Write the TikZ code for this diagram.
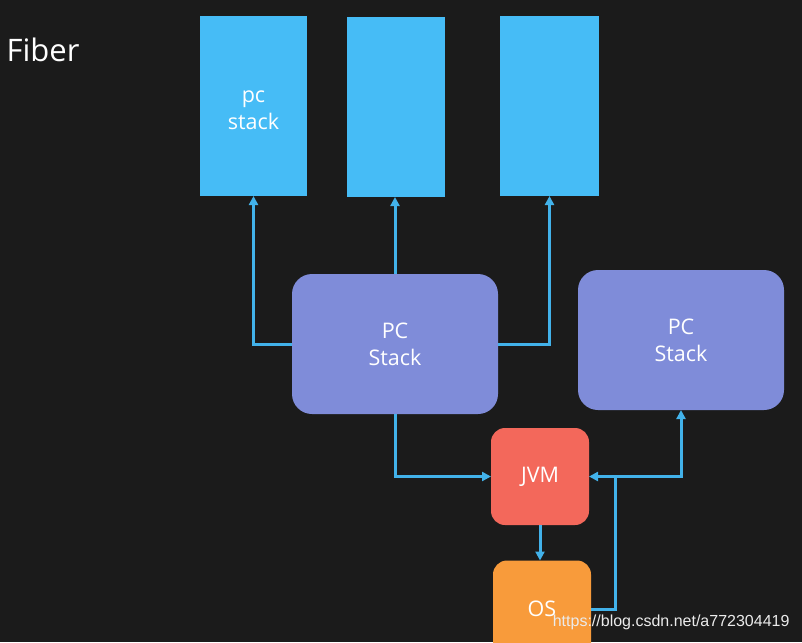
\documentclass[tikz,border=0pt]{standalone}
\usepackage{fontspec}
\setmainfont{Open Sans}
\newfontfamily\urlfont{Liberation Sans}
\usetikzlibrary{arrows.meta}
\definecolor{board}{HTML}{1B1B1B}
\definecolor{stackblue}{HTML}{46BCF6}
\definecolor{pcpurple}{HTML}{7F8CD9}
\definecolor{jvmred}{HTML}{F3685B}
\definecolor{osorange}{HTML}{F89B3B}
\definecolor{wire}{HTML}{42B2EA}

\begin{document}
\begin{tikzpicture}[x=1pt,y=-1pt,
    box/.style={inner sep=0pt,outer sep=0pt,text=white,align=center,
        font=\fontsize{21.5}{27}\selectfont},
    stackbox/.style={box,fill=stackblue,minimum width=100pt,minimum height=180pt},
    pcbox/.style={box,fill=pcpurple,rounded corners=20pt,minimum width=206pt,minimum height=140pt},
    vmbox/.style={box,rounded corners=14pt,minimum width=98pt,minimum height=97pt},
    link/.style={wire,line width=3pt,-{Triangle[length=9pt,width=9pt]}}]
    \fill[board] (0,0) rectangle (802,642);
    \useasboundingbox (0,0) rectangle (802,642);
    \clip (0,0) rectangle (802,642);
    \node[text=white,anchor=west,font=\fontsize{31}{36}\selectfont] (title) at (3,50) {Fiber};
    \node[stackbox,minimum width=107pt] (s1) at (253.5,106) {};
    \node[box] (s1text) at (253.5,110) {pc\\stack};
    \node[stackbox,minimum width=98pt] (s2) at (396,107) {};
    \node[stackbox,minimum width=99pt] (s3) at (549.5,106) {};
    \node[pcbox] (pc1) at (395,344) {PC\\Stack};
    \node[pcbox] (pc2) at (681,340) {PC\\Stack};
    \node[vmbox,fill=jvmred] (jvm) at (540,476.5) {JVM};
    \node[vmbox,fill=osorange] (os) at (542,609) {OS};
    \coordinate (split) at (615,476.5);
    \draw[link] (pc1.west) -| (s1.south);
    \draw[link] (pc1.north) -- (pc1.north |- s2.south);
    \draw[link] (pc1.east) -| (s3.south);
    \draw[link] (pc1.south) |- (jvm.west);
    \draw[link] (jvm.south) -- (jvm.south |- os.north);
    \draw[link] (os.east) -| (split) -- (jvm.east);
    \draw[link] (split) -| (pc2.south);
    \node[text=white!92!black,anchor=east,font=\urlfont\fontsize{16}{19}\selectfont] (url) at (793,622) {https://blog.csdn.net/a772304419};
\end{tikzpicture}
\end{document}
